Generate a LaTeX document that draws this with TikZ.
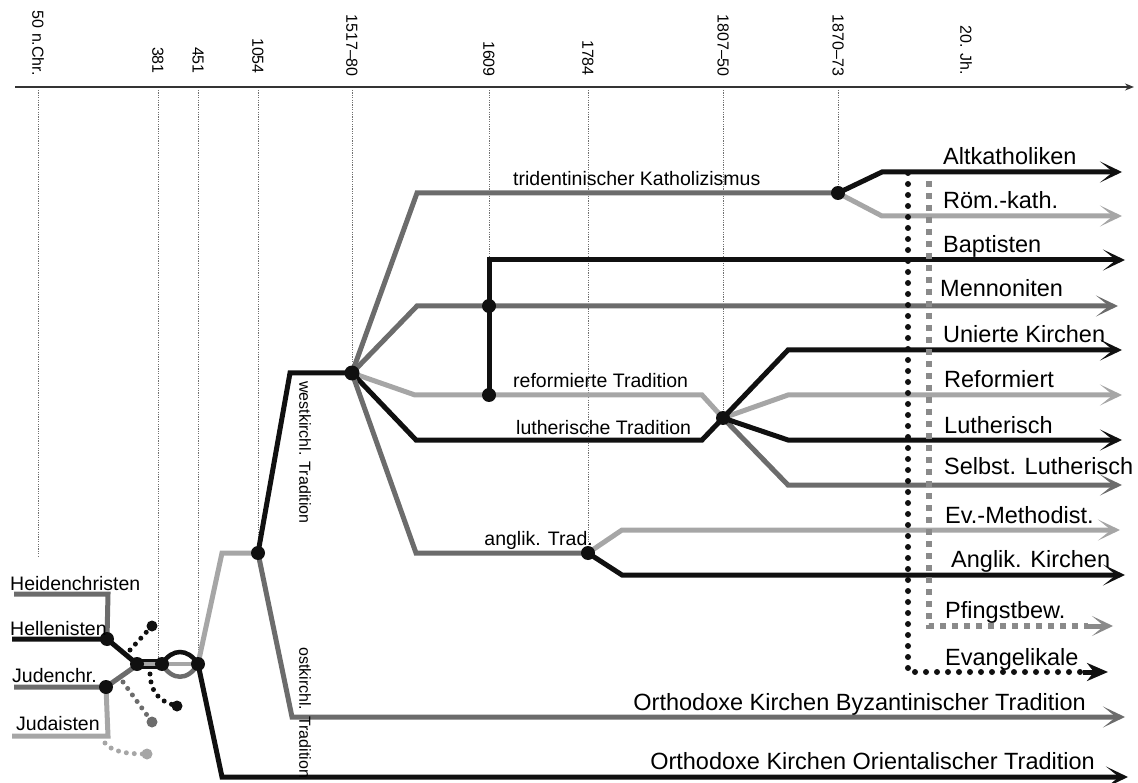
\documentclass[tikz,border=0pt]{standalone}
\usepackage{fontspec}
\setmainfont{Liberation Sans}
\usetikzlibrary{arrows.meta}
\definecolor{cblk}{HTML}{101010}
\definecolor{cmid}{HTML}{6C6C6C}
\definecolor{clgt}{HTML}{A6A6A6}
\definecolor{cdash}{HTML}{8A8A8A}
\definecolor{cgrid}{HTML}{707070}
\tikzset{
  lw/.style={line width=5pt},
  lblk/.style={lw, draw=cblk},
  lmid/.style={lw, draw=cmid},
  llgt/.style={lw, draw=clgt},
  tip/.style={-{Stealth[length=22pt,width=21pt,inset=13pt]}},
  jdot/.style={circle, fill=cblk, inner sep=0pt, minimum size=14pt},
  sdot/.style={circle, inner sep=0pt, minimum size=11pt},
  dotline/.style={line width=5pt, line cap=round, dash pattern=on 0pt off 8pt},
  bigdot/.style={line width=6pt, line cap=round, dash pattern=on 0pt off 11pt},
  sqline/.style={line width=6pt, draw=cdash, dash pattern=on 6pt off 6pt},
  gridline/.style={draw=cgrid, line width=0.8pt, dash pattern=on 1.2pt off 1.2pt},
  ticklab/.style={font=\fontsize{16}{19}\selectfont, rotate=-90, anchor=east, inner sep=0pt},
  rotlab/.style={font=\fontsize{16}{19}\selectfont, rotate=-90, anchor=west, inner sep=0pt},
  rlab/.style={font=\fontsize{23.5}{28}\selectfont, anchor=base west, inner sep=0pt},
  olab/.style={font=\fontsize{23.5}{28}\selectfont, anchor=base east, inner sep=0pt},
  llab/.style={font=\fontsize{19.5}{23}\selectfont, anchor=base west, inner sep=0pt},
}
\begin{document}
\begin{tikzpicture}[x=1pt,y=-1pt]
\useasboundingbox (0,0) rectangle (1138,783);

% ---------- time axis ----------
\coordinate (ax0) at (15,87);
\coordinate (ax1) at (1134,87);
\draw[line width=1.3pt, draw=cblk!85, -{Stealth[length=9pt,width=7pt]}] (ax0) -- (ax1);

\node[ticklab] (t50) at (38,76) {50 n.Chr.};
\node[ticklab] (t381) at (158,74) {381};
\node[ticklab] (t451) at (198,74) {451};
\node[ticklab] (t1054) at (258,74) {1054};
\node[ticklab] (t1517) at (352,77) {1517–80};
\node[ticklab] (t1609) at (489,77) {1609};
\node[ticklab] (t1784) at (588,76) {1784};
\node[ticklab] (t1807) at (723,77) {1807–50};
\node[ticklab] (t1870) at (838,77) {1870–73};
\node[ticklab] (t20) at (966,75) {20. Jh.};

% ---------- junctions ----------
\coordinate (Jhel) at (107,639);
\coordinate (Jjud) at (106,687);
\coordinate (JA) at (137,664);
\coordinate (JB) at (162,664);
\coordinate (JC) at (198,664);
\coordinate (J1054) at (258,553);
\coordinate (J1517) at (352,373);
\coordinate (J1609a) at (489,306);
\coordinate (J1609b) at (489,395);
\coordinate (J1784) at (588,553);
\coordinate (J1807) at (723,418);
\coordinate (J1870) at (838,193);

% ---------- grid lines ----------
\coordinate (g50a) at (38,90);   \coordinate (g50b) at (38,557);
\coordinate (g381a) at (158,90); \coordinate (g381b) at (158,658);
\coordinate (g451a) at (198,90);
\coordinate (g1054a) at (258,90);
\coordinate (g1517a) at (352,90);
\coordinate (g1609a) at (489,90);
\coordinate (g1784a) at (588,90);
\coordinate (g1807a) at (723,90);
\coordinate (g1870a) at (838,90);
\draw[gridline] (g50a) -- (g50b);
\draw[gridline] (g381a) -- (g381b);
\draw[gridline] (g451a) -- (JC);
\draw[gridline] (g1054a) -- (J1054);
\draw[gridline] (g1517a) -- (J1517);
\draw[gridline] (g1609a) -- (J1609a);
\draw[gridline] (g1784a) -- (J1784);
\draw[gridline] (g1807a) -- (J1807);
\draw[gridline] (g1870a) -- (J1870);

% ---------- early church (left) ----------
\coordinate (hcS) at (14,594);  \coordinate (hcB) at (108,594);
\coordinate (heS) at (12,639);
\coordinate (jcS) at (14,687);
\coordinate (jaS) at (12,736);  \coordinate (jaB) at (108,736);
\coordinate (jcE) at (133,668);

\draw[lmid] (hcS) -- (hcB) -- (Jhel);
\draw[llgt] (jaS) -- (jaB) -- (Jjud);
\draw[lmid] (jcS) -- (Jjud) -- (jcE);
\draw[lblk] (heS) -- (Jhel) -- (JA);
\draw[line width=10pt, draw=cblk] (JA) -- (JB);
\draw[line width=4.5pt, draw=cmid] (JB) .. controls (172,681) and (188,681) .. (JC);
\draw[line width=4.5pt, draw=cblk] (JB) .. controls (172,648) and (188,648) .. (JC);
\draw[line width=3.5pt, draw=clgt] (JA) -- (JC);

% dotted side branches
\coordinate (s1) at (130,650);
\coordinate (s2) at (150,674);
\coordinate (s3) at (123,682);
\coordinate (s4) at (105,743);
\draw[dotline, draw=cblk] (s1) -- (152,626);
\draw[dotline, draw=cblk] (s2) .. controls (151,692) and (158,701) .. (177,706);
\draw[dotline, draw=cmid] (s3) -- (152,722);
\draw[dotline, draw=clgt] (s4) .. controls (112,752) and (128,754) .. (147,754);
\node[sdot, fill=cblk] (e1) at (152,626) {};
\node[sdot, fill=cblk] (e2) at (177,706) {};
\node[sdot, fill=cmid] (e3) at (152,722) {};
\node[sdot, fill=clgt] (e4) at (147,754) {};

% ---------- 451 / 1054 ----------
\coordinate (b451u) at (222,553);
\coordinate (b451d) at (222,777);
\coordinate (eOri) at (1128,777);
\coordinate (bOst) at (292,717);
\coordinate (eByz) at (1125,717);
\coordinate (bWest) at (290,373);
\draw[llgt] (JC) -- (b451u) -- (J1054);
\draw[lblk, tip] (JC) -- (b451d) -- (eOri);
\draw[lmid, tip] (J1054) -- (bOst) -- (eByz);
\draw[lblk] (J1054) -- (bWest) -- (J1517);

% ---------- 1517-80 fan ----------
\coordinate (bTri) at (417,193);
\coordinate (bMen) at (417,306);
\coordinate (eMen) at (1118,306);
\coordinate (bRef) at (415,395);
\coordinate (bRef2) at (702,395);
\coordinate (bLut) at (416,440);
\coordinate (bLut2) at (702,440);
\coordinate (bAng) at (416,553);
\draw[lmid] (J1517) -- (bTri) -- (J1870);
\draw[lmid, tip] (J1517) -- (bMen) -- (eMen);
\draw[llgt] (J1517) -- (bRef) -- (bRef2) -- (J1807);
\draw[lblk] (J1517) -- (bLut) -- (bLut2) -- (J1807);
\draw[lmid] (J1517) -- (bAng) -- (J1784);

% ---------- 1609 Baptisten ----------
\coordinate (bBap) at (489,260);
\coordinate (eBap) at (1125,260);
\draw[lblk, tip] (J1609b) -- (bBap) -- (eBap);

% ---------- 1807-50 ----------
\coordinate (bUni) at (788,350);  \coordinate (eUni) at (1122,350);
\coordinate (bRf) at (788,395);   \coordinate (eRf) at (1122,395);
\coordinate (bLu) at (788,440);   \coordinate (eLu) at (1122,440);
\coordinate (bSL) at (788,485);   \coordinate (eSL) at (1122,485);
\draw[lmid, tip] (J1807) -- (bSL) -- (eSL);
\draw[llgt, tip] (J1807) -- (bRf) -- (eRf);
\draw[lblk, tip] (J1807) -- (bLu) -- (eLu);
\draw[lblk, tip] (J1807) -- (bUni) -- (eUni);

% ---------- 1784 anglik. ----------
\coordinate (bEM) at (622,530);  \coordinate (eEM) at (1120,530);
\coordinate (bAK) at (622,575);  \coordinate (eAK) at (1125,575);
\draw[llgt, tip] (J1784) -- (bEM) -- (eEM);
\draw[lblk, tip] (J1784) -- (bAK) -- (eAK);

% ---------- 1870-73 ----------
\coordinate (bAlt) at (882,172);  \coordinate (eAlt) at (1122,172);
\coordinate (bRK) at (882,216);   \coordinate (eRK) at (1122,216);
\draw[llgt, tip] (J1870) -- (bRK) -- (eRK);
\draw[lblk, tip] (J1870) -- (bAlt) -- (eAlt);

% ---------- 20th century dotted ----------
\coordinate (pfT) at (929,181);  \coordinate (pfB) at (929,626);
\coordinate (pfH) at (1088,626); \coordinate (ePf) at (1113,626);
\coordinate (evT) at (908,173);  \coordinate (evB) at (908,672);
\coordinate (evH) at (1083,672); \coordinate (eEv) at (1108,672);
\draw[sqline] (pfT) -- (pfB) -- (pfH);
\draw[draw=cdash, line width=5pt, -{Stealth[length=21pt,width=20pt,inset=12pt]}] (pfH) -- (ePf);
\draw[bigdot, draw=cblk] (evT) -- (evB) -- (evH);
\draw[draw=cblk, line width=5pt, -{Stealth[length=21pt,width=18pt,inset=7pt]}] (evH) -- (eEv);

% ---------- junction dots ----------
\node[jdot] (dHel) at (Jhel) {};
\node[jdot] (dJud) at (Jjud) {};
\node[jdot] (dA) at (JA) {};
\node[jdot] (dB) at (JB) {};
\node[jdot] (dC) at (JC) {};
\node[jdot] (d1054) at (J1054) {};
\node[jdot, minimum size=15pt] (d1517) at (J1517) {};
\node[jdot] (d1609a) at (J1609a) {};
\node[jdot] (d1609b) at (J1609b) {};
\node[jdot] (d1784) at (J1784) {};
\node[jdot] (d1807) at (J1807) {};
\node[jdot] (d1870) at (J1870) {};

% ---------- labels ----------
\node[llab] (lHc) at (10,590) {Heidenchristen};
\node[llab] (lHe) at (10,635) {Hellenisten};
\node[llab] (lJc) at (12,682) {Judenchr.};
\node[llab] (lJa) at (16,730) {Judaisten};

\node[rotlab] (lWest) at (305,381) {westkirchl. Tradition};
\node[rotlab] (lOst) at (305,647) {ostkirchl. Tradition};

\node[llab] (lTri) at (513,186) {tridentinischer Katholizismus};
\node[llab] (lRef) at (513,388) {reformierte Tradition};
\node[llab] (lLut) at (516,435) {lutherische Tradition};
\node[llab, anchor=base east] (lAng) at (593,545) {anglik. Trad.};

\node[rlab] (rAlt) at (943,165) {Altkatholiken};
\node[rlab] (rRK) at (943,209) {Röm.-kath.};
\node[rlab] (rBap) at (943,253) {Baptisten};
\node[rlab] (rMen) at (940,297) {Mennoniten};
\node[rlab] (rUni) at (943,343) {Unierte Kirchen};
\node[rlab] (rRef) at (944,388) {Reformiert};
\node[rlab] (rLut) at (944,433) {Lutherisch};
\node[rlab] (rSL) at (944,474) {Selbst. Lutherisch};
\node[rlab] (rEM) at (945,523) {Ev.-Methodist.};
\node[rlab] (rAK) at (951,567) {Anglik. Kirchen};
\node[rlab] (rPf) at (945,618) {Pfingstbew.};
\node[rlab] (rEv) at (945,665) {Evangelikale};
\node[olab] (rByz) at (1086,710) {Orthodoxe Kirchen Byzantinischer Tradition};
\node[olab] (rOri) at (1095,769) {Orthodoxe Kirchen Orientalischer Tradition};
\end{tikzpicture}
\end{document}
